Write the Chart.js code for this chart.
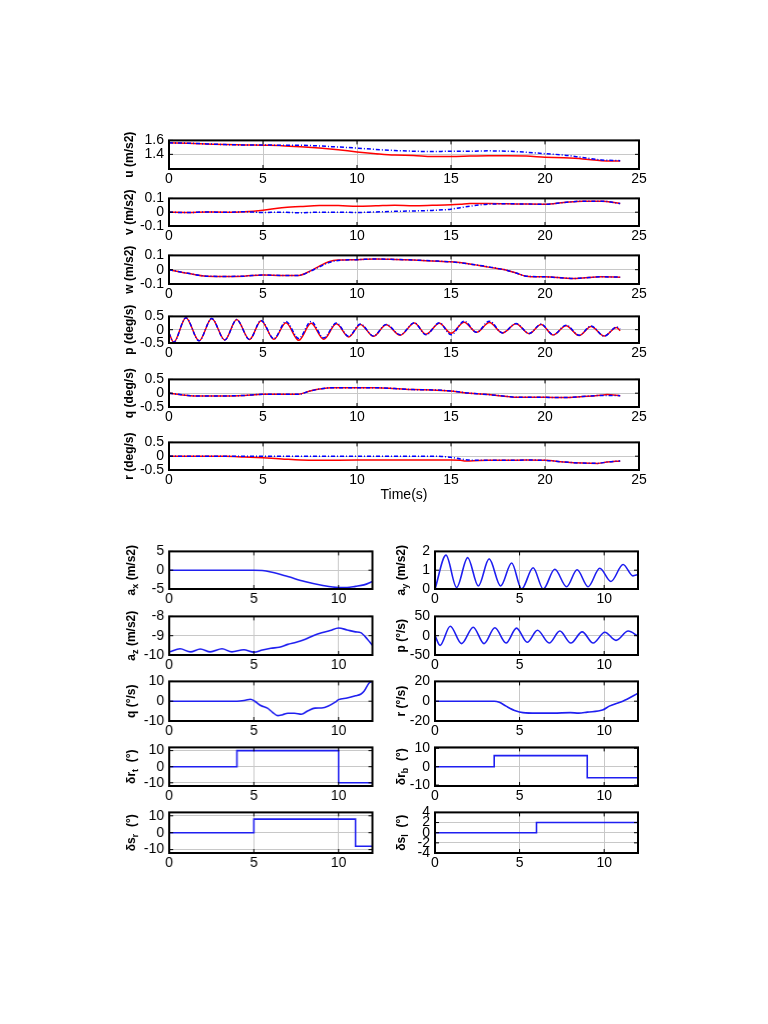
<!DOCTYPE html>
<html>
<head>
<meta charset="utf-8">
<script src="https://cdn.jsdelivr.net/npm/chart.js@4.4.1/dist/chart.umd.min.js"></script>
<style>
  body { margin: 0; background: #fff; }
  #page { position: relative; width: 768px; height: 1024px; }
  .panel { position: absolute; }
</style>
</head>
<body>
<div id="page"></div>
<script>
// ---- top block: red = solid, blue = dash-dot, time 0..24 s ----
var uT    = [0,1,2,3,4,5,6,7,8,9,10,11,12,13,14,15,16,17,18,19,20,21,22,23,24];
var uRed  = [1.565,1.56,1.55,1.54,1.535,1.53,1.525,1.51,1.49,1.465,1.435,1.41,1.39,1.385,1.37,1.37,1.375,1.38,1.38,1.375,1.36,1.35,1.335,1.31,1.305];
var uBlue = [1.565,1.56,1.55,1.54,1.535,1.535,1.53,1.53,1.52,1.505,1.49,1.47,1.455,1.445,1.44,1.445,1.445,1.45,1.445,1.43,1.41,1.39,1.355,1.32,1.31];

var vT    = [0,1,2,3,4,5,6,7,8,9,10,11,12,13,14,15,15.5,16,16.5,17,18,19,20,21,22,23,24];
var vRed  = [0,-0.002,0.002,0,0.004,0.015,0.033,0.041,0.048,0.048,0.043,0.046,0.05,0.047,0.05,0.054,0.058,0.063,0.063,0.063,0.061,0.059,0.058,0.07,0.08,0.08,0.063];
var vBlue = [0,-0.003,0.002,-0.001,0.003,-0.002,0,-0.004,0,0,-0.002,0.002,0.006,0.009,0.013,0.022,0.033,0.043,0.052,0.058,0.061,0.059,0.058,0.07,0.08,0.08,0.063];

var wT    = [0,1,2,3,4,5,6,6.9,7.5,8,8.5,9,10,11,12,13,14,15,16,17,18,18.5,19,20,21,21.5,22,23,24];
var wRed  = [0,-0.025,-0.045,-0.047,-0.045,-0.037,-0.04,-0.04,-0.01,0.025,0.055,0.067,0.07,0.075,0.072,0.067,0.061,0.055,0.04,0.018,-0.005,-0.025,-0.045,-0.05,-0.058,-0.062,-0.058,-0.05,-0.052];
var wBlue = [0,-0.025,-0.045,-0.047,-0.045,-0.037,-0.04,-0.04,-0.012,0.02,0.05,0.065,0.07,0.075,0.072,0.068,0.062,0.055,0.04,0.02,-0.005,-0.025,-0.045,-0.05,-0.058,-0.062,-0.058,-0.05,-0.052];

var pT    = [0,0.25,0.9,1.6,2.27,2.97,3.6,4.28,4.9,5.58,6.22,6.9,7.56,8.23,8.9,9.56,10.18,10.88,11.55,12.3,13.05,13.67,14.38,15.0,15.7,16.36,17.04,17.74,18.46,19.16,19.79,20.44,21.12,21.82,22.45,23.15,23.81,24.0];
var pRed  = [-0.13,-0.47,0.45,-0.42,0.42,-0.39,0.38,-0.37,0.34,-0.36,0.26,-0.4,0.24,-0.36,0.22,-0.27,0.2,-0.25,0.19,-0.21,0.25,-0.17,0.24,-0.13,0.28,-0.1,0.27,-0.12,0.22,-0.15,0.2,-0.2,0.15,-0.22,0.12,-0.24,0.08,-0.04];
var pBlue = [-0.13,-0.47,0.45,-0.42,0.42,-0.39,0.38,-0.37,0.35,-0.34,0.31,-0.33,0.31,-0.31,0.25,-0.25,0.21,-0.24,0.2,-0.19,0.26,-0.19,0.26,-0.19,0.32,-0.1,0.32,-0.12,0.23,-0.14,0.21,-0.19,0.17,-0.21,0.14,-0.24,0.1,0.02];

var qT    = [0,1,1.5,3,4,5,6,6.9,7.5,8,8.7,10,11,12,13,14,15,16,17,18,18.5,19,20,21,22,23,23.3,24];
var qRed  = [0,-0.08,-0.1,-0.1,-0.08,-0.04,-0.04,-0.035,0.08,0.15,0.2,0.2,0.2,0.17,0.13,0.12,0.08,0.0,-0.05,-0.12,-0.15,-0.15,-0.15,-0.16,-0.12,-0.07,-0.05,-0.09];
var qBlue = [0,-0.08,-0.1,-0.1,-0.08,-0.04,-0.04,-0.035,0.08,0.15,0.2,0.2,0.2,0.17,0.13,0.12,0.08,0.0,-0.05,-0.12,-0.15,-0.15,-0.15,-0.16,-0.12,-0.08,-0.08,-0.09];

var rT    = [0,3,4,5,6,7,8,10,12,14,14.5,15,15.5,15.7,16,17,18,19,20,21,22,22.8,23.3,24];
var rRed  = [0,0,-0.03,-0.06,-0.1,-0.14,-0.15,-0.14,-0.14,-0.14,-0.14,-0.14,-0.15,-0.17,-0.17,-0.15,-0.15,-0.14,-0.15,-0.21,-0.25,-0.26,-0.21,-0.17];
var rBlue = [0,0,0,0,0,0,0,0,0,0,-0.01,-0.04,-0.1,-0.12,-0.14,-0.15,-0.15,-0.14,-0.15,-0.21,-0.25,-0.26,-0.21,-0.17];

var topXTicks = [0,5,10,15,20,25];

// ---- bottom block: 0..12 s ----
var axT = [0,5,5.5,6,7,8,9,10,10.5,11,11.5,12];
var axV = [0,0,-0.1,-0.5,-1.7,-3.0,-4.0,-4.6,-4.6,-4.3,-3.9,-3.0];
var azT = [0,0.65,1.25,1.84,2.43,3.12,3.7,4.4,5.0,5.5,6,6.5,7,7.5,8,8.5,9,9.5,10,10.5,11,11.3,11.7,12];
var azV = [-9.85,-9.68,-9.84,-9.69,-9.84,-9.68,-9.84,-9.73,-9.85,-9.74,-9.65,-9.6,-9.45,-9.34,-9.2,-9.0,-8.85,-8.73,-8.6,-8.7,-8.8,-8.84,-9.18,-9.5];
var qbT = [0,4,4.5,4.8,5.05,5.4,5.8,6.1,6.4,6.7,7.0,7.4,7.8,8.2,8.6,9.0,9.4,9.8,10,10.5,11,11.3,11.5,11.8,12];
var qbV = [0,0,0.5,1.0,0,-2.2,-3.5,-5.6,-7.3,-6.8,-6.1,-6.1,-6.6,-4.8,-3.5,-3.4,-2.4,-0.5,0.8,1.6,2.7,3.5,5,9.2,10];
var drtT = [0,4,4,10,10,12];
var drtV = [0,0,10,10,-10,-10];
var dsrT = [0,5,5,11,11,12];
var dsrV = [0,0,8,8,-8,-8];

var ayT = [0,0.65,1.28,1.93,2.56,3.2,3.88,4.53,5.12,5.8,6.4,7.08,7.78,8.4,9.05,9.74,10.4,11.12,11.7,12];
var ayV = [0,1.8,0.08,1.67,0.16,1.6,0.16,1.38,0.0,1.13,0.0,1.05,0.12,1.02,0.12,1.1,0.4,1.3,0.7,0.77];
var pbT = [0,0.3,0.9,1.57,2.26,2.9,3.54,4.2,4.82,5.45,6.06,6.75,7.38,8.03,8.7,9.35,10.04,10.7,11.42,12];
var pbV = [0,-25,24.6,-20.5,22,-20.5,20.5,-19,19.7,-17,14,-19,12,-19,10,-19,9,-12,12,-1];
var rbT = [0,3.5,3.8,4.2,4.8,5.2,6,7,8,8.5,9,9.9,10.3,11.1,12];
var rbV = [0,0,-1,-5,-10,-11.5,-12,-12,-11.5,-12,-11,-9,-5,0,8];
var drbT = [0,3.5,3.5,9,9,12];
var drbV = [0,0,6,6,-6,-6];
var dslT = [0,6,6,12];
var dslV = [0,0,2,2];

var botXTicks = [0,5,10];

var page = document.getElementById('page');
var FONT = '"Liberation Sans", Arial, Helvetica, sans-serif';
var RED = '#ff0000', BLUE = '#0000ff', BLUE2 = '#1f1ff0';

function pts(t, v) {
  return t.map(function (x, i) { return { x: x, y: v[i] }; });
}

// black box, inside ticks and the (rotated, maybe subscripted) y label
function frame(label, off) {
  return {
    id: 'frame',
    afterDraw: function (chart) {
      var c = chart.ctx, a = chart.chartArea, sx = chart.scales.x, sy = chart.scales.y;
      c.save();
      c.strokeStyle = '#000';
      c.lineWidth = 1;
      c.beginPath();
      sx.ticks.forEach(function (t) {
        var px = sx.getPixelForValue(t.value);
        c.moveTo(px, a.top); c.lineTo(px, a.top + 4);
        c.moveTo(px, a.bottom); c.lineTo(px, a.bottom - 4);
      });
      sy.ticks.forEach(function (t) {
        var py = sy.getPixelForValue(t.value);
        c.moveTo(a.left, py); c.lineTo(a.left + 4, py);
        c.moveTo(a.right, py); c.lineTo(a.right - 4, py);
      });
      c.stroke();
      c.lineWidth = 2;
      c.strokeRect(a.left, a.top, a.right - a.left, a.bottom - a.top);

      var big = 'bold 12px ' + FONT, small = 'bold 9px ' + FONT;
      var w = 0;
      label.forEach(function (p) { c.font = p[1] ? small : big; w += c.measureText(p[0]).width; });
      c.translate(a.left - off, (a.top + a.bottom) / 2);
      c.rotate(-Math.PI / 2);
      c.fillStyle = '#000';
      c.textBaseline = 'middle';
      var x = -w / 2;
      label.forEach(function (p) {
        c.font = p[1] ? small : big;
        c.fillText(p[0], x, p[1] ? 4 : 0);
        x += c.measureText(p[0]).width;
      });
      c.restore();
    }
  };
}

function addPanel(o) {
  var padL = 50, padT = 10, padR = 20, padB = o.xTitle ? 34 : 25;
  var div = document.createElement('div');
  div.className = 'panel';
  div.style.left = (o.box[0] - padL) + 'px';
  div.style.top = (o.box[1] - padT) + 'px';
  div.style.width = (o.box[2] - o.box[0] + padL + padR) + 'px';
  div.style.height = (o.box[3] - o.box[1] + padT + padB) + 'px';
  var cv = document.createElement('canvas');
  div.appendChild(cv);
  page.appendChild(div);

  // Chart.js paints dataset 0 last, so the first series ends up on top
  var datasets = o.series.map(function (s) {
    return {
      data: pts(s.t, s.v),
      borderColor: s.color,
      borderWidth: s.width || 1.5,
      borderDash: s.dash || [],
      pointRadius: 0,
      fill: false,
      tension: s.step ? 0 : 0.4,
      cubicInterpolationMode: s.step ? 'default' : 'monotone'
    };
  });

  var tickFont = { family: FONT, size: 14 };
  new Chart(cv, {
    type: 'line',
    data: { datasets: datasets },
    options: {
      responsive: true,
      maintainAspectRatio: false,
      animation: false,
      layout: { padding: { left: 0, top: padT, right: padR, bottom: 0 } },
      plugins: { legend: { display: false }, tooltip: { enabled: false } },
      scales: {
        x: {
          type: 'linear', min: 0, max: o.xMax,
          afterBuildTicks: function (s) { s.ticks = o.xTicks.map(function (v) { return { value: v }; }); },
          afterFit: function (s) { s.height = padB; },
          grid: { color: '#c8c8c8', lineWidth: 1, drawTicks: false },
          border: { display: false },
          ticks: { color: '#000', font: tickFont, padding: 2, maxRotation: 0, autoSkip: false,
                   callback: function (v) { return String(v); } },
          title: o.xTitle ? { display: true, text: o.xTitle, color: '#000', font: tickFont, padding: 0 } : { display: false }
        },
        y: {
          type: 'linear', min: o.yMin, max: o.yMax,
          afterBuildTicks: function (s) { s.ticks = o.yTicks.map(function (v) { return { value: v }; }); },
          afterFit: function (s) { s.width = padL; },
          grid: { color: '#c8c8c8', lineWidth: 1, drawTicks: false },
          border: { display: false },
          ticks: { color: '#000', font: tickFont, padding: 5, autoSkip: false,
                   callback: function (v) { return String(v); } }
        }
      }
    },
    plugins: [frame(o.label, o.labelOff)]
  });
}

function pair(t, red, blue) {
  return [
    { t: t, v: blue, color: BLUE, width: 1.5, dash: [4, 2, 1, 2] },
    { t: t, v: red, color: RED, width: 1.5 }
  ];
}

var TL = 169, TR = 639;
addPanel({ box: [TL, 137, TR, 169], xMax: 25, xTicks: topXTicks, yMin: 1.19, yMax: 1.6, yTicks: [1.4, 1.6],
  series: pair(uT, uRed, uBlue), label: [['u (m/s2)', 0]], labelOff: 39 });
addPanel({ box: [TL, 195, TR, 226], xMax: 25, xTicks: topXTicks, yMin: -0.1, yMax: 0.1, yTicks: [-0.1, 0, 0.1],
  series: pair(vT, vRed, vBlue), label: [['v (m/s2)', 0]], labelOff: 39 });
addPanel({ box: [TL, 252, TR, 284], xMax: 25, xTicks: topXTicks, yMin: -0.1, yMax: 0.1, yTicks: [-0.1, 0, 0.1],
  series: pair(wT, wRed, wBlue), label: [['w (m/s2)', 0]], labelOff: 39 });
addPanel({ box: [TL, 313, TR, 343], xMax: 25, xTicks: topXTicks, yMin: -0.5, yMax: 0.5, yTicks: [-0.5, 0, 0.5],
  series: pair(pT, pRed, pBlue), label: [['p (deg/s)', 0]], labelOff: 39 });
addPanel({ box: [TL, 376, TR, 407], xMax: 25, xTicks: topXTicks, yMin: -0.5, yMax: 0.5, yTicks: [-0.5, 0, 0.5],
  series: pair(qT, qRed, qBlue), label: [['q (deg/s)', 0]], labelOff: 39 });
addPanel({ box: [TL, 439, TR, 470], xMax: 25, xTicks: topXTicks, yMin: -0.5, yMax: 0.5, yTicks: [-0.5, 0, 0.5],
  series: pair(rT, rRed, rBlue), label: [['r (deg/s)', 0]], labelOff: 39, xTitle: 'Time(s)' });

function one(t, v, step) { return [{ t: t, v: v, color: BLUE2, width: 1.6, step: step }]; }

var BL = 169, BR = 371.5, CL = 435, CR = 638;
var rows = [[548, 589], [613, 655], [678, 721], [744, 786], [809, 853]];

addPanel({ box: [BL, rows[0][0], BR, rows[0][1]], xMax: 12, xTicks: botXTicks, yMin: -5, yMax: 5, yTicks: [-5, 0, 5],
  series: one(axT, axV), label: [['a', 0], ['x', 1], [' (m/s2)', 0]], labelOff: 37 });
addPanel({ box: [BL, rows[1][0], BR, rows[1][1]], xMax: 12, xTicks: botXTicks, yMin: -10, yMax: -8, yTicks: [-10, -9, -8],
  series: one(azT, azV), label: [['a', 0], ['z', 1], [' (m/s2)', 0]], labelOff: 37 });
addPanel({ box: [BL, rows[2][0], BR, rows[2][1]], xMax: 12, xTicks: botXTicks, yMin: -10, yMax: 10, yTicks: [-10, 0, 10],
  series: one(qbT, qbV), label: [['q (°/s)', 0]], labelOff: 37 });
addPanel({ box: [BL, rows[3][0], BR, rows[3][1]], xMax: 12, xTicks: botXTicks, yMin: -12, yMax: 12, yTicks: [-10, 0, 10],
  series: one(drtT, drtV, true), label: [['δr', 0], ['t', 1], ['  (°)', 0]], labelOff: 37 });
addPanel({ box: [BL, rows[4][0], BR, rows[4][1]], xMax: 12, xTicks: botXTicks, yMin: -12, yMax: 12, yTicks: [-10, 0, 10],
  series: one(dsrT, dsrV, true), label: [['δs', 0], ['r', 1], ['  (°)', 0]], labelOff: 37 });

addPanel({ box: [CL, rows[0][0], CR, rows[0][1]], xMax: 12, xTicks: botXTicks, yMin: 0, yMax: 2, yTicks: [0, 1, 2],
  series: one(ayT, ayV), label: [['a', 0], ['y', 1], [' (m/s2)', 0]], labelOff: 33 });
addPanel({ box: [CL, rows[1][0], CR, rows[1][1]], xMax: 12, xTicks: botXTicks, yMin: -50, yMax: 50, yTicks: [-50, 0, 50],
  series: one(pbT, pbV), label: [['p (°/s)', 0]], labelOff: 33 });
addPanel({ box: [CL, rows[2][0], CR, rows[2][1]], xMax: 12, xTicks: botXTicks, yMin: -20, yMax: 20, yTicks: [-20, 0, 20],
  series: one(rbT, rbV), label: [['r (°/s)', 0]], labelOff: 33 });
addPanel({ box: [CL, rows[3][0], CR, rows[3][1]], xMax: 12, xTicks: botXTicks, yMin: -10.5, yMax: 10.5, yTicks: [-10, 0, 10],
  series: one(drbT, drbV, true), label: [['δr', 0], ['b', 1], ['  (°)', 0]], labelOff: 33 });
addPanel({ box: [CL, rows[4][0], CR, rows[4][1]], xMax: 12, xTicks: botXTicks, yMin: -4, yMax: 4, yTicks: [-4, -2, 0, 2, 4],
  series: one(dslT, dslV, true), label: [['δs', 0], ['l', 1], ['  (°)', 0]], labelOff: 33 });
</script>
</body>
</html>
